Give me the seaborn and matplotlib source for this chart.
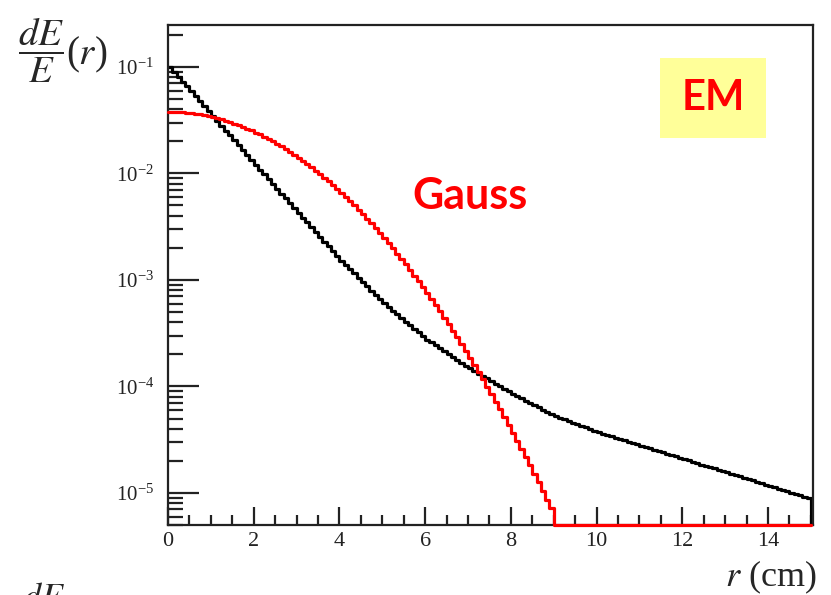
import numpy as np
import pandas as pd
import matplotlib
matplotlib.use("Agg")
import matplotlib.pyplot as plt
import matplotlib.ticker as mticker
import seaborn as sns

# bin edges of the radial profile histograms (0.1 cm bins, 0..15 cm)
r_edges = np.round(np.arange(0, 15.01, 0.1), 2)

# EM shower profile dE/E(r), black histogram
em_profile = [
    0.100, 0.0900, 0.0809, 0.0728, 0.0655, 0.0589, 0.0530, 0.0476, 0.0429, 0.0385,
    0.0347, 0.0312, 0.0281, 0.0252, 0.0227, 0.0204, 0.0184, 0.0165, 0.0149, 0.0134,
    0.0120, 0.0108, 0.00977, 0.00881, 0.00794, 0.00716, 0.00646, 0.00582, 0.00525, 0.00473,
    0.00427, 0.00385, 0.00347, 0.00313, 0.00282, 0.00254, 0.00229, 0.00207, 0.00186, 0.00168,
    0.00151, 0.00138, 0.00126, 0.00115, 0.00105, 9.55e-4, 8.71e-4, 7.94e-4, 7.24e-4, 6.61e-4,
    6.03e-4, 5.57e-4, 5.15e-4, 4.76e-4, 4.41e-4, 4.07e-4, 3.77e-4, 3.48e-4, 3.22e-4, 2.98e-4,
    2.75e-4, 2.59e-4, 2.43e-4, 2.29e-4, 2.15e-4, 2.02e-4, 1.90e-4, 1.78e-4, 1.67e-4, 1.57e-4,
    1.48e-4, 1.40e-4, 1.32e-4, 1.25e-4, 1.19e-4, 1.12e-4, 1.06e-4, 1.00e-4, 9.51e-5, 8.99e-5,
    8.51e-5, 8.11e-5, 7.73e-5, 7.36e-5, 7.01e-5, 6.68e-5, 6.37e-5, 6.07e-5, 5.78e-5, 5.51e-5,
    5.25e-5, 5.07e-5, 4.90e-5, 4.73e-5, 4.57e-5, 4.42e-5, 4.27e-5, 4.12e-5, 3.98e-5, 3.85e-5,
    3.72e-5, 3.61e-5, 3.51e-5, 3.40e-5, 3.31e-5, 3.21e-5, 3.12e-5, 3.03e-5, 2.94e-5, 2.86e-5,
    2.78e-5, 2.70e-5, 2.62e-5, 2.55e-5, 2.48e-5, 2.40e-5, 2.33e-5, 2.27e-5, 2.20e-5, 2.14e-5,
    2.08e-5, 2.02e-5, 1.96e-5, 1.91e-5, 1.85e-5, 1.80e-5, 1.75e-5, 1.70e-5, 1.65e-5, 1.60e-5,
    1.56e-5, 1.51e-5, 1.47e-5, 1.43e-5, 1.39e-5, 1.35e-5, 1.31e-5, 1.27e-5, 1.23e-5, 1.20e-5,
    1.16e-5, 1.13e-5, 1.10e-5, 1.07e-5, 1.04e-5, 1.01e-5, 9.77e-6, 9.50e-6, 9.23e-6, 8.97e-6,
]

# Gaussian parametrisation, red histogram (empty bins beyond 9 cm)
gauss_profile = [
    0.0380, 0.0379, 0.0378, 0.0375, 0.0372, 0.0368, 0.0363, 0.0358, 0.0352, 0.0345,
    0.0338, 0.0330, 0.0322, 0.0313, 0.0304, 0.0294, 0.0284, 0.0274, 0.0264, 0.0253,
    0.0242, 0.0232, 0.0221, 0.0210, 0.0200, 0.0189, 0.0179, 0.0169, 0.0159, 0.0150,
    0.0140, 0.0131, 0.0123, 0.0114, 0.0106, 0.00986, 0.00913, 0.00844, 0.00778, 0.00715,
    0.00657, 0.00601, 0.00550, 0.00502, 0.00456, 0.00414, 0.00375, 0.00340, 0.00306, 0.00276,
    0.00248, 0.00222, 0.00199, 0.00177, 0.00158, 0.00140, 0.00125, 0.00110, 9.74e-4, 8.59e-4,
    7.55e-4, 6.63e-4, 5.80e-4, 5.07e-4, 4.42e-4, 3.85e-4, 3.34e-4, 2.89e-4, 2.50e-4, 2.16e-4,
    1.86e-4, 1.59e-4, 1.37e-4, 1.17e-4, 9.98e-5, 8.50e-5, 7.22e-5, 6.12e-5, 5.18e-5, 4.38e-5,
    3.69e-5, 3.10e-5, 2.60e-5, 2.18e-5, 1.82e-5, 1.52e-5, 1.26e-5, 1.05e-5, 8.67e-6, 7.16e-6,
] + [0.0] * 60

x_ticks = [0, 2, 4, 6, 8, 10, 12, 14]
y_min, y_max = 5e-6, 0.25

sns.set_style("ticks")
plt.rcParams["font.family"] = ["Liberation Serif", "DejaVu Serif"]
plt.rcParams["mathtext.fontset"] = "stix"
plt.rcParams["mathtext.default"] = "regular"
plt.rcParams["axes.unicode_minus"] = False


def step_frame(values, floor):
    # ROOT draws empty bins on the frame bottom and closes the last bin down to it
    vals = np.clip(np.array(values), floor, None)
    return pd.DataFrame({"r": r_edges, "dE": np.append(vals, floor)})


fig = plt.figure(figsize=(8.31, 5.95), dpi=100)
ax = fig.add_axes([0.2022, 0.1176, 0.9783 - 0.2022, 0.9588 - 0.1176])

sns.lineplot(data=step_frame(em_profile, y_min), x="r", y="dE", ax=ax,
             drawstyle="steps-post", estimator=None, color="black", lw=2.3)
sns.lineplot(data=step_frame(gauss_profile, y_min), x="r", y="dE", ax=ax,
             drawstyle="steps-post", estimator=None, color="#ff0000", lw=2.3,
             clip_on=False, zorder=4)

ax.set_yscale("log")
ax.set_xlim(0, 15.05)
ax.set_ylim(y_min, y_max)
ax.set_xlabel("")
ax.set_ylabel("")

ax.set_xticks(x_ticks)
ax.xaxis.set_minor_locator(mticker.MultipleLocator(0.5))
ax.yaxis.set_major_locator(mticker.LogLocator(base=10))
ax.yaxis.set_minor_locator(mticker.LogLocator(base=10, subs=np.arange(2, 10)))
ax.yaxis.set_minor_formatter(mticker.NullFormatter())
ax.yaxis.set_major_formatter(mticker.LogFormatterMathtext())

ax.tick_params(axis="both", which="both", direction="in", top=False, right=False,
               colors="#222222", width=1.6)
ax.tick_params(axis="x", which="major", length=13, labelsize=16, pad=5)
ax.tick_params(axis="x", which="minor", length=7)
ax.tick_params(axis="y", which="major", length=22, labelsize=15, pad=10)
ax.tick_params(axis="y", which="minor", length=11)
for side in ax.spines.values():
    side.set_linewidth(1.6)
    side.set_color("#222222")

# annotations
ax.text(0.845, 0.853, "EM", transform=ax.transAxes, ha="center", va="center",
        fontsize=30, fontweight="bold", color="#ff0000", family=["Lato", "DejaVu Sans"],
        bbox=dict(boxstyle="square,pad=0.5", fc="#ffff99", ec="none"))
ax.text(0.468, 0.657, "Gauss", transform=ax.transAxes, ha="center", va="center",
        fontsize=31, fontweight="bold", color="#ff0000", family=["Lato", "DejaVu Sans"])

fig.text(0.022, 0.916, r"$\dfrac{\mathit{dE}}{\mathit{E}}(\mathit{r})$", fontsize=28,
         ha="left", va="center")
fig.text(0.983, 0.030, r"$\mathit{r}$ (cm)", fontsize=26, ha="right", va="center")
fig.text(0.026, 0.0202, r"$\mathit{dE}$", fontsize=26, ha="left", va="top")

fig.savefig("out.png", dpi=100)
